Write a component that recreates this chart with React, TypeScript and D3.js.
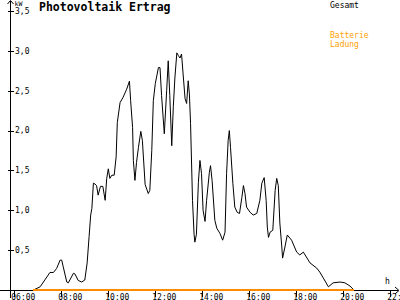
import React from "react";
import * as d3 from "d3";

const times = [
  "06:49","07:06","07:31","07:40","07:48","07:57","08:01","08:05","08:14","08:18",
  "08:31","08:35","08:43","08:52","09:00","09:06","09:11","09:15","09:18","09:22",
  "09:26","09:30","09:34","09:40","09:46","09:52","09:56","10:00","10:04","10:09",
  "10:15","10:20","10:23","10:30","10:38","10:47","10:54","10:57","11:02","11:04",
  "11:08","11:12","11:17","11:23","11:27","11:34","11:42","11:46","11:51","11:55",
  "12:00","12:08","12:12","12:16","12:23","12:29","12:33","12:37","12:42","12:46",
  "12:50","12:55","12:59","13:03","13:07","13:11","13:16","13:20","13:24","13:27",
  "13:30","13:35","13:39","13:41","13:45","13:50","13:54","13:58","14:02","14:07",
  "14:11","14:18","14:21","14:25","14:32","14:37","14:45","14:52","14:58","15:02",
  "15:06","15:09","15:12","15:18","15:23","15:29","15:35","15:41","15:45","15:49",
  "15:53","16:02","16:10","16:19","16:27","16:32","16:38","16:43","16:46","16:49",
  "16:53","17:00","17:06","17:10","17:14","17:18","17:23","17:25","17:31","17:37",
  "17:48","18:01","18:09","18:18","18:35","18:52","19:00","19:09","19:22","19:34",
  "19:52","20:04","20:17","20:27"
];

const gesamt = [
  0.0, 0.04, 0.22, 0.22, 0.27, 0.375, 0.375, 0.29, 0.10, 0.09,
  0.21, 0.20, 0.12, 0.10, 0.125, 0.34, 0.67, 0.94, 1.02, 1.34,
  1.33, 1.31, 1.19, 1.30, 1.30, 1.125, 1.40, 1.52, 1.40, 1.44,
  1.44, 1.67, 2.10, 2.35, 2.42, 2.52, 2.62, 2.375, 2.04, 1.625,
  1.375, 1.60, 1.79, 1.99, 1.875, 1.325, 1.21, 1.25, 1.75, 2.375,
  2.59, 2.79, 2.79, 2.44, 1.96, 2.50, 2.875, 2.44, 1.81, 2.30,
  2.66, 2.975, 2.94, 2.91, 2.96, 2.71, 2.40, 2.34, 2.625, 2.46,
  2.09, 1.125, 0.70, 0.60, 0.70, 1.35, 1.625, 1.46, 1.0, 0.86,
  1.125, 1.475, 1.56, 1.375, 0.875, 0.775, 0.71, 0.625, 0.725, 1.46,
  1.875, 2.0, 1.79, 1.34, 1.04, 0.975, 0.96, 1.16, 1.31, 1.21,
  1.04, 0.975, 0.94, 0.96, 1.125, 1.34, 1.41, 1.125, 0.79, 0.66,
  0.725, 0.75, 1.25, 1.40, 1.31, 0.84, 0.54, 0.40, 0.54, 0.69,
  0.625, 0.475, 0.44, 0.475, 0.34, 0.275, 0.225, 0.15, 0.04, 0.09,
  0.10, 0.09, 0.05, 0.0
];

const batterie = times.map(() => 0);

const xTicks = ["06:00","08:00","10:00","12:00","14:00","16:00","18:00","20:00","22:"];
const xTickHours = [6, 8, 10, 12, 14, 16, 18, 20, 22];
const yTicks = [0.5, 1.0, 1.5, 2.0, 2.5, 3.0, 3.5];
const yTickLabels = ["0,5", "1,0", "1,5", "2,0", "2,5", "3,0", "3,5"];

const title = "Photovoltaik Ertrag";
const yUnit = "kW";
const xUnit = "h";
const legendGesamt = "Gesamt";
const legendBatt = ["Batterie", "Ladung"];

const toHours = (t: string) => {
  const [h, m] = t.split(":").map(Number);
  return h + m / 60;
};

export default function App() {
  const W = 400, H = 300;
  const x = d3.scaleLinear().domain([6, 22]).range([14.3, 390.3]);
  const y = d3.scaleLinear().domain([0, 3.5]).range([290, 11]);
  const hrs = times.map(toHours);
  const line = d3
    .line<number>()
    .x((_, i) => x(hrs[i]))
    .y((d) => y(d));
  const font = "'DejaVu Sans Mono', monospace";
  const orange = "#ff8c00";
  return (
    <svg
      width={W}
      height={H}
      style={{ position: "absolute", left: 0, top: 0, background: "#fff" }}
    >
      {/* axes */}
      <g stroke="#000" strokeWidth={1} shapeRendering="crispEdges" fill="none">
        <line x1={10.5} y1={0.5} x2={10.5} y2={298} />
        <line x1={0} y1={290.5} x2={398} y2={290.5} />
        {yTicks.map((t) => (
          <line key={t} x1={7.5} x2={13.5} y1={Math.round(y(t)) + 0.5} y2={Math.round(y(t)) + 0.5} />
        ))}
        {xTickHours.map((h) => (
          <line key={h} x1={Math.round(x(h)) + 0.5} x2={Math.round(x(h)) + 0.5} y1={290} y2={297} />
        ))}
      </g>
      <g stroke="#000" strokeWidth={1} fill="none">
        <polyline points="7.5,4 10.5,0.5 13.5,4" />
        <polyline points="395,287 399,290.5 395,294" />
      </g>
      {/* y labels */}
      <g fontFamily={font} fontSize={8} fill="#000">
        {yTicks.map((t, i) => (
          <text key={t} x={15} y={y(t)} dy="0.35em">
            {yTickLabels[i]}
          </text>
        ))}
        <text x={14.5} y={6} fontSize={6.5}>{yUnit}</text>
        {xTickHours.map((h, i) => (
          <text key={h} x={x(h) - 3} y={299.5}>
            {xTicks[i]}
          </text>
        ))}
        <text x={385} y={284}>{xUnit}</text>
        <text x={330} y={7.5}>{legendGesamt}</text>
      </g>
      <g fontFamily={font} fontSize={8} fill="#ffa000">
        <text x={330} y={38}>{legendBatt[0]}</text>
        <text x={330} y={46.5}>{legendBatt[1]}</text>
      </g>
      <text x={39} y={11} fontFamily={font} fontSize={11.5} fontWeight="bold" fill="#000">
        {title}
      </text>
      {/* series */}
      <path d={line(gesamt) || ""} fill="none" stroke="#000" strokeWidth={1} />
      <path
        d={line(batterie) || ""}
        fill="none"
        stroke={orange}
        strokeWidth={1.5}
        shapeRendering="crispEdges"
      />
    </svg>
  );
}
